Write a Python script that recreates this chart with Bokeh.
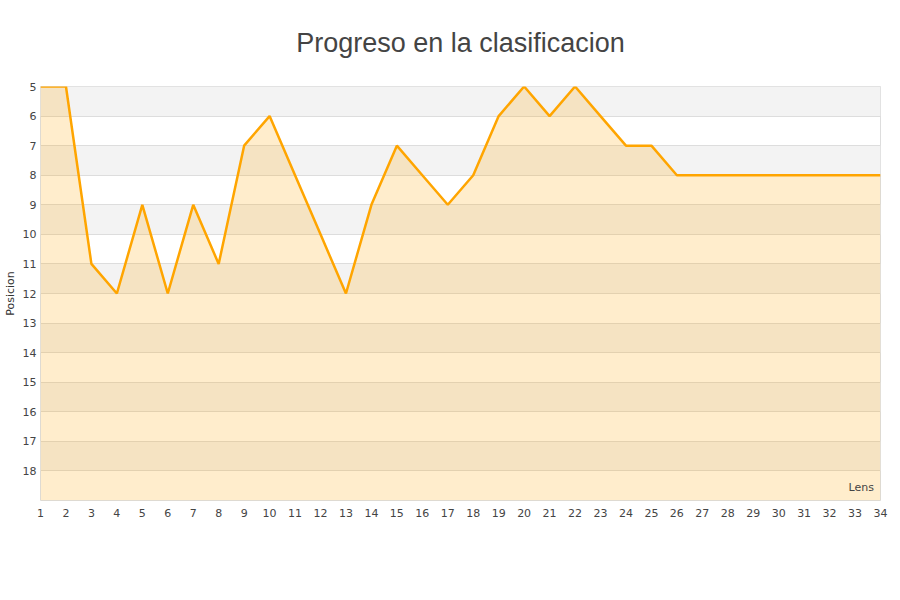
from bokeh.plotting import figure
from bokeh.models import Range1d, FixedTicker, Legend, LegendItem, ColumnDataSource
from bokeh.embed import file_html
from bokeh.resources import INLINE

jornadas = list(range(1, 35))
posiciones = [5, 5, 11, 12, 9, 12, 9, 11, 7, 6, 8, 10, 12, 9, 7, 8, 9, 8, 6, 5,
              6, 5, 6, 7, 7, 8, 8, 8, 8, 8, 8, 8, 8, 8]
y_ticks = list(range(5, 19))
x_ticks = list(range(1, 35))
fondo = [19] * len(jornadas)

src = ColumnDataSource(dict(x=jornadas, y=posiciones, base=fondo))

p = figure(frame_width=840, frame_height=414,
           output_backend="svg", toolbar_location=None,
           x_range=Range1d(1, 34), y_range=Range1d(19, 5),
           min_border_left=40, min_border_right=8, min_border_top=86, min_border_bottom=0)

p.title.text = "Progreso en la clasificacion"
p.title.align = "center"
p.title.vertical_align = "top"
p.title.text_font = "Liberation Sans"
p.title.text_font_size = "27px"
p.title.text_font_style = "normal"
p.title.text_color = "#444444"
p.title.standoff = 54

p.outline_line_color = "#dddddd"
p.background_fill_color = "white"
p.border_fill_color = "white"

p.xgrid.visible = False
p.ygrid.grid_line_color = "#dddddd"

# alternating grey bands starting at the first tick
band_centers = [t + 0.5 for t in y_ticks[0::2]]
p.hbar(y=band_centers, height=1, left=x_ticks[0], right=x_ticks[-1],
       fill_color="#f3f3f3", line_color=None, level="underlay")

for ax in (p.xaxis[0], p.yaxis[0]):
    ax.axis_line_color = None
    ax.major_tick_line_color = None
    ax.minor_tick_line_color = None
    ax.major_tick_out = 0
    ax.major_tick_in = 0
    ax.minor_tick_out = 0
    ax.major_label_text_font = "DejaVu Sans"
    ax.major_label_text_font_size = "11px"
    ax.major_label_text_color = "#444444"

p.xaxis.ticker = FixedTicker(ticks=x_ticks)
p.yaxis.ticker = FixedTicker(ticks=y_ticks)
p.xaxis.major_label_standoff = 8
p.yaxis.major_label_standoff = 4
p.yaxis.axis_label = "Posicion"
p.yaxis.axis_label_text_font = "DejaVu Sans"
p.yaxis.axis_label_text_font_size = "11px"
p.yaxis.axis_label_text_font_style = "normal"
p.yaxis.axis_label_text_color = "#333333"
p.yaxis.axis_label_standoff = 3

p.varea(x="x", y1="y", y2="base", source=src, fill_color="orange", fill_alpha=0.2)
p.line(x="x", y="y", source=src, line_color="orange", line_width=2.5)

dummy = p.scatter(x=[], y=[], marker="square", size=8,
                  fill_color="#ffeecc", line_color="#888888")
legend = Legend(items=[LegendItem(label="Lens", renderers=[dummy])],
                location="bottom_right", orientation="horizontal", border_line_color=None,
                background_fill_alpha=0, label_text_font="DejaVu Sans",
                label_text_font_size="11px", glyph_width=10, glyph_height=10,
                label_standoff=6, padding=4, margin=6)
p.add_layout(legend, "center")

open("out.html", "w").write(file_html(p, INLINE))
